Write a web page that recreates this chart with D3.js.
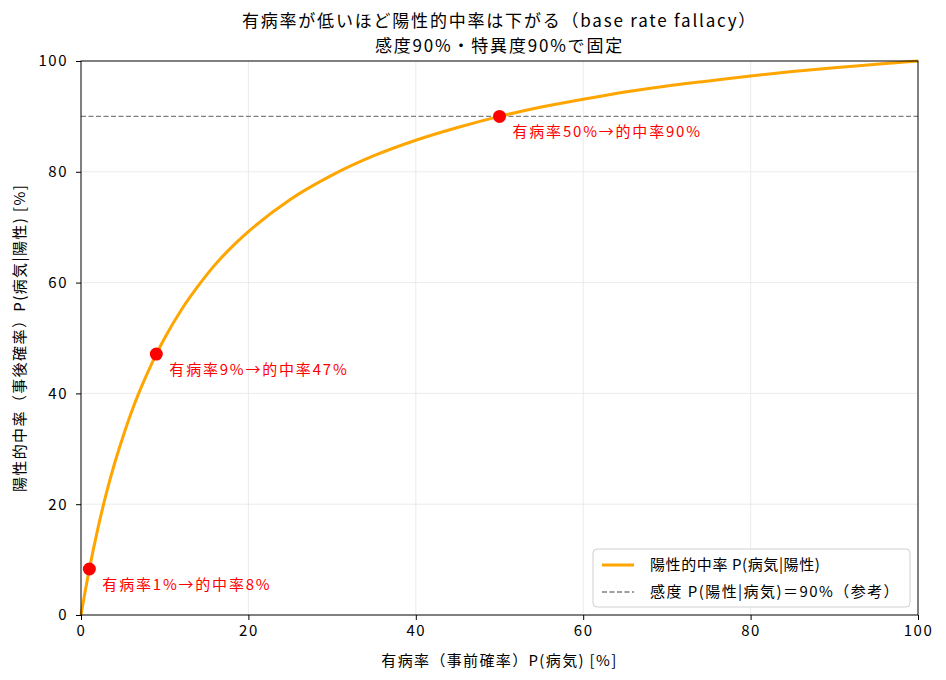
<!DOCTYPE html>
<html>
<head>
<meta charset="utf-8">
<script src="https://cdn.jsdelivr.net/npm/d3@7"></script>
<style>
  body { margin: 0; background: #fff; }
  svg text { font-family: "Noto Sans CJK JP", "Noto Sans", sans-serif; }
</style>
</head>
<body>
<div id="chart"></div>
<script>
// values
var prevalence = [0, 0.5, 1, 2, 3, 4, 5, 6, 7, 8, 9, 10, 12, 14, 16, 18, 20, 25, 30, 35, 40, 45, 50, 55, 60, 65, 70, 75, 80, 85, 90, 95, 100];
var ppv = [0, 4.3, 8.3, 15.5, 21.8, 27.3, 32.1, 36.5, 40.4, 43.9, 47.1, 50, 55.1, 59.4, 63.2, 66.4, 69.2, 75, 79.4, 82.9, 85.7, 88.0, 90, 91.7, 93.1, 94.4, 95.5, 96.4, 97.3, 98.1, 98.8, 99.4, 100];
var markX = [1, 9, 50];
var markY = [8.3, 47.1, 90];
var markLabels = ["有病率1%→的中率8%", "有病率9%→的中率47%", "有病率50%→的中率90%"];
var sensitivity = 90;
var ticks = [0, 20, 40, 60, 80, 100];
var titleLines = ["有病率が低いほど陽性的中率は下がる（base rate fallacy）", "感度90%・特異度90%で固定"];

var width = 946, height = 680;
var margin = {top: 61, right: 28, bottom: 65, left: 81};

var svg = d3.select("#chart").append("svg")
    .attr("width", width)
    .attr("height", height);

var x = d3.scaleLinear().domain([0, 100]).range([margin.left, width - margin.right]);
var y = d3.scaleLinear().domain([0, 100]).range([height - margin.bottom, margin.top]);

//Grid lines
svg.append("g").selectAll("line").data(ticks.slice(1, -1)).enter().append("line")
    .attr("x1", function (d) { return x(d); }).attr("x2", function (d) { return x(d); })
    .attr("y1", y(0)).attr("y2", y(100))
    .style("stroke", "#e6e6e6").style("stroke-width", 0.8);
svg.append("g").selectAll("line").data(ticks.slice(1, -1)).enter().append("line")
    .attr("y1", function (d) { return y(d); }).attr("y2", function (d) { return y(d); })
    .attr("x1", x(0)).attr("x2", x(100))
    .style("stroke", "#e6e6e6").style("stroke-width", 0.8);

//Reference line for sensitivity
svg.append("line")
    .attr("x1", x(0)).attr("x2", x(100))
    .attr("y1", y(sensitivity)).attr("y2", y(sensitivity))
    .style("stroke", "#808080").style("stroke-width", 1.3)
    .style("stroke-dasharray", "5,2.5");

//PPV curve
var line = d3.line()
    .x(function (d, i) { return x(prevalence[i]); })
    .y(function (d) { return y(d); })
    .curve(d3.curveMonotoneX);

svg.append("path").datum(ppv)
    .attr("d", line)
    .style("fill", "none")
    .style("stroke", "orange")
    .style("stroke-width", 3);

//Frame
svg.append("rect")
    .attr("x", x(0)).attr("y", y(100))
    .attr("width", x(100) - x(0)).attr("height", y(0) - y(100))
    .style("fill", "none").style("stroke", "#000").style("stroke-width", 1);

//Axes
var xAxis = svg.append("g")
    .attr("transform", "translate(0," + y(0) + ")")
    .call(d3.axisBottom(x).tickValues(ticks).tickSize(5).tickPadding(5));
var yAxis = svg.append("g")
    .attr("transform", "translate(" + x(0) + ",0)")
    .call(d3.axisLeft(y).tickValues(ticks).tickSize(5).tickPadding(8));
[xAxis, yAxis].forEach(function (a) {
    a.select(".domain").remove();
    a.selectAll("text").style("font-size", "15px").style("letter-spacing", "1.5px").style("fill", "#000");
    a.selectAll("line").style("stroke", "#000");
});

//Marked points
svg.append("g").selectAll("circle").data(markX).enter().append("circle")
    .attr("cx", function (d) { return x(d); })
    .attr("cy", function (d, i) { return y(markY[i]); })
    .attr("r", 6.5)
    .style("fill", "red");

svg.append("g").selectAll("text").data(markLabels).enter().append("text")
    .attr("x", function (d, i) { return x(markX[i]) + 13; })
    .attr("y", function (d, i) { return y(markY[i]) + 21; })
    .style("font-size", "15px")
    .style("letter-spacing", "1.8px")
    .style("fill", "red")
    .text(function (d) { return d; });

//Title, one text with two lines
var cx = (x(0) + x(100)) / 2;
svg.append("text").attr("y", 27).attr("text-anchor", "middle")
    .style("font-size", "17px").style("letter-spacing", "1.8px")
    .selectAll("tspan").data(titleLines).enter().append("tspan")
    .attr("x", cx)
    .attr("dy", function (d, i) { return i === 0 ? 0 : 25; })
    .text(function (d) { return d; });

//Axis labels
svg.append("text").attr("x", cx).attr("y", 666).attr("text-anchor", "middle")
    .style("font-size", "15px").style("letter-spacing", "1.35px")
    .text("有病率（事前確率）P(病気) [%]");
svg.append("text")
    .attr("transform", "translate(25," + ((y(0) + y(100)) / 2) + ") rotate(-90)")
    .attr("text-anchor", "middle")
    .style("font-size", "15px").style("letter-spacing", "1.4px")
    .text("陽性的中率（事後確率）P(病気|陽性) [%]");

//Legend
var lg = svg.append("g").attr("transform", "translate(593,549)");
lg.append("rect").attr("width", 317).attr("height", 58).attr("rx", 4)
    .style("fill", "#fff").style("fill-opacity", 0.8)
    .style("stroke", "#d0d0d0");
lg.append("line").attr("x1", 9).attr("x2", 41).attr("y1", 16).attr("y2", 16)
    .style("stroke", "orange").style("stroke-width", 3);
lg.append("line").attr("x1", 9).attr("x2", 41).attr("y1", 43).attr("y2", 43)
    .style("stroke", "#808080").style("stroke-width", 1.3).style("stroke-dasharray", "5,2.5");
lg.append("text").attr("x", 57).attr("y", 21).style("font-size", "15px").style("letter-spacing", "0.6px")
    .text("陽性的中率 P(病気|陽性)");
lg.append("text").attr("x", 57).attr("y", 48).style("font-size", "15px").style("letter-spacing", "1.45px")
    .text("感度 P(陽性|病気)＝90%（参考）");
</script>
</body>
</html>
